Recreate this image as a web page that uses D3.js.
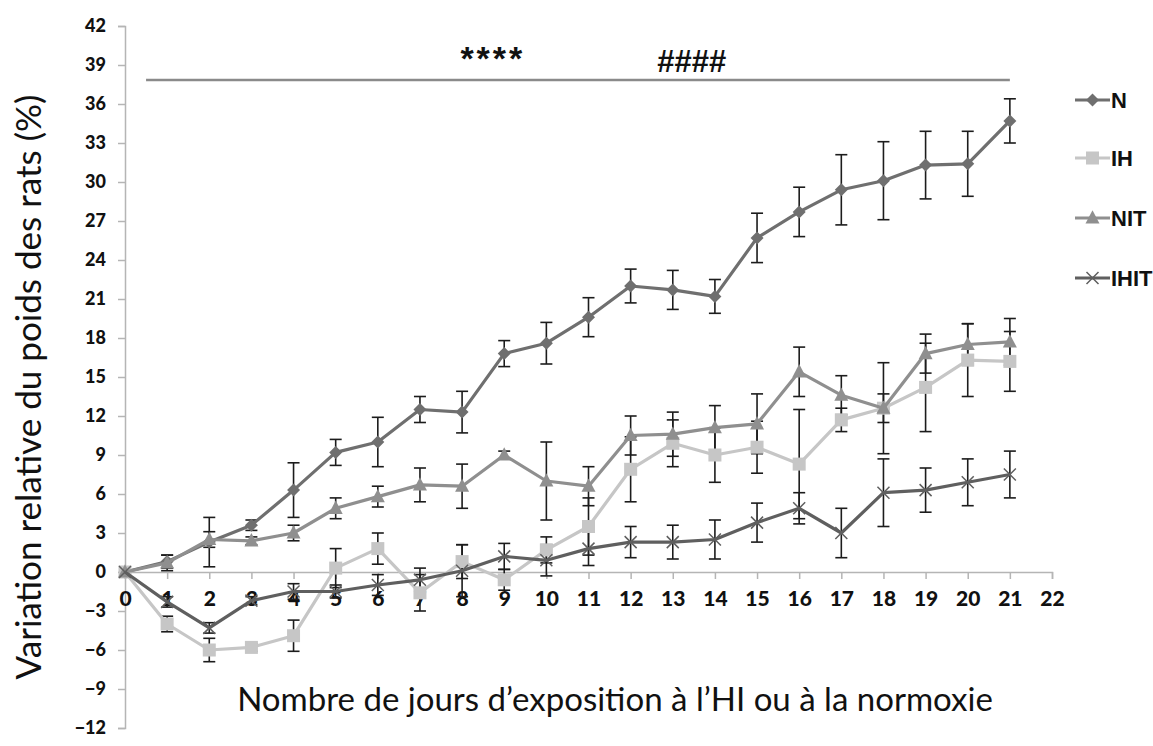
<!DOCTYPE html>
<html>
<head>
<meta charset="utf-8">
<script src="https://cdn.jsdelivr.net/npm/d3@7"></script>
<style>
  html, body { margin: 0; padding: 0; background: #fff; }
  svg { display: block; }
</style>
</head>
<body>
<svg id="chart" width="1153" height="746"></svg>
<script>
// Days of exposure
const days = d3.range(0, 22);

// Mean relative weight change (%) per group
const seriesN    = [0, 0.8, 2.3, 3.6, 6.3, 9.2, 10.0, 12.5, 12.3, 16.8, 17.6, 19.6, 22.0, 21.7, 21.2, 25.7, 27.7, 29.4, 30.1, 31.3, 31.4, 34.7];
const seriesIH   = [0, -4.0, -6.0, -5.8, -4.9, 0.3, 1.8, -1.6, 0.8, -0.6, 1.7, 3.5, 7.9, 9.9, 9.0, 9.6, 8.3, 11.7, 12.6, 14.2, 16.3, 16.2];
const seriesNIT  = [0, 0.7, 2.5, 2.4, 3.0, 4.9, 5.8, 6.7, 6.6, 9.0, 7.0, 6.6, 10.5, 10.6, 11.1, 11.4, 15.4, 13.6, 12.6, 16.8, 17.5, 17.7];
const seriesIHIT = [0, -2.3, -4.3, -2.2, -1.5, -1.5, -1.0, -0.6, 0.1, 1.2, 0.9, 1.8, 2.3, 2.3, 2.5, 3.8, 4.9, 3.0, 6.1, 6.3, 6.9, 7.5];

// Standard errors
const errN    = [0, 0.5, 1.9, 0.4, 2.1, 1.0, 1.9, 1.0, 1.6, 1.0, 1.6, 1.5, 1.3, 1.5, 1.3, 1.9, 1.9, 2.7, 3.0, 2.6, 2.5, 1.7];
const errIH   = [0, 0.6, 0.9, 0.3, 1.2, 1.5, 1.2, 1.4, 1.3, 0.8, 1.0, 2.2, 2.5, 1.8, 2.1, 2.0, 4.2, 0.9, 1.1, 3.4, 2.8, 2.3];
const errNIT  = [0, 0.6, 0.6, 0.3, 0.6, 0.8, 0.8, 1.3, 1.7, 0.3, 3.0, 1.5, 1.5, 1.7, 1.7, 2.3, 1.9, 1.5, 3.5, 1.5, 1.6, 1.8];
const errIHIT = [0, 0.4, 0.4, 0.3, 0.6, 0.5, 0.8, 0.9, 2.0, 1.0, 1.2, 1.3, 1.2, 1.3, 1.5, 1.5, 1.2, 1.9, 2.6, 1.7, 1.8, 1.8];

// Axis ticks
const xTicks = d3.range(0, 23);
const yTicks = d3.range(-12, 43, 3);

// Significance bracket
const bracketDays = [0.5, 21];
const bracketLevel = 37.85;
const bracketLabels = ["****", "####"];

const groups = [
  { name: "N",    values: seriesN,    err: errN,    color: "#6f6f6f", symbol: "diamond" },
  { name: "IH",   values: seriesIH,   err: errIH,   color: "#c6c6c6", symbol: "square" },
  { name: "NIT",  values: seriesNIT,  err: errNIT,  color: "#8f8f8f", symbol: "triangle" },
  { name: "IHIT", values: seriesIHIT, err: errIHIT, color: "#5f5f5f", symbol: "cross" }
];

const svg = d3.select("#chart");

const x = d3.scaleLinear().domain([0, 22]).range([125, 1052]);
const y = d3.scaleLinear().domain([-12, 42]).range([728, 26]);

const tickFont = "Lato, 'Open Sans', sans-serif";

// Y axis along the left edge
const yAxis = svg.append("g")
  .attr("transform", `translate(${x(0)},0)`)
  .call(d3.axisLeft(y).tickValues(yTicks).tickSize(7).tickPadding(12).tickFormat(d3.format("d")));
yAxis.select(".domain").attr("stroke", "#b5b5b5").attr("stroke-width", 1.5);
yAxis.selectAll(".tick line").attr("stroke", "#b5b5b5").attr("stroke-width", 1.5);
yAxis.selectAll(".tick text")
  .attr("fill", "#111")
  .style("font-family", tickFont)
  .style("font-weight", 900)
  .style("font-size", "18px");

// X axis on the zero line
const xAxis = svg.append("g")
  .attr("transform", `translate(0,${y(0)})`)
  .call(d3.axisBottom(x).tickValues(xTicks).tickSize(7).tickPadding(12).tickFormat(d3.format("d")));
xAxis.select(".domain").attr("stroke", "#b5b5b5").attr("stroke-width", 1.5);
xAxis.selectAll(".tick line").attr("stroke", "#b5b5b5").attr("stroke-width", 1.5);
xAxis.selectAll(".tick text")
  .attr("fill", "#111")
  .style("font-family", tickFont)
  .style("font-weight", 900)
  .style("font-size", "21px");

// Significance bracket and markers
svg.append("line")
  .attr("x1", x(bracketDays[0])).attr("x2", x(bracketDays[1]))
  .attr("y1", y(bracketLevel)).attr("y2", y(bracketLevel))
  .attr("stroke", "#8a8a8a").attr("stroke-width", 2.5);

svg.append("text")
  .attr("x", x(8.73)).attr("y", y(bracketLevel) - 10)
  .attr("text-anchor", "middle")
  .style("font-family", "'Liberation Sans', Arial, sans-serif")
  .style("font-weight", 700).style("font-size", "34px")
  .style("letter-spacing", "3px")
  .attr("fill", "#111")
  .text(bracketLabels[0]);

svg.append("text")
  .attr("x", x(13.45)).attr("y", y(bracketLevel) - 8)
  .attr("text-anchor", "middle")
  .style("font-family", "'Liberation Sans', Arial, sans-serif")
  .style("font-weight", 700).style("font-size", "31px")
  .attr("fill", "#111")
  .text(bracketLabels[1]);

// Error bars
const capHalf = 6;
groups.forEach(g => {
  const eb = svg.append("g").attr("class", "err");
  days.forEach((d, i) => {
    if (!g.err[i]) return;
    const hi = y(g.values[i] + g.err[i]);
    const lo = y(g.values[i] - g.err[i]);
    eb.append("line").attr("x1", x(d)).attr("x2", x(d)).attr("y1", hi).attr("y2", lo);
    eb.append("line").attr("x1", x(d) - capHalf).attr("x2", x(d) + capHalf).attr("y1", hi).attr("y2", hi);
    eb.append("line").attr("x1", x(d) - capHalf).attr("x2", x(d) + capHalf).attr("y1", lo).attr("y2", lo);
  });
  eb.selectAll("line").attr("stroke", "#1c1c1c").attr("stroke-width", 1.6);
});

// Marker drawing
function drawMarker(sel, symbol, color, cx, cy, s) {
  if (symbol === "diamond") {
    sel.append("path")
      .attr("d", `M${cx},${cy - s}L${cx + s},${cy}L${cx},${cy + s}L${cx - s},${cy}Z`)
      .attr("fill", color);
  } else if (symbol === "square") {
    sel.append("rect")
      .attr("x", cx - s).attr("y", cy - s).attr("width", 2 * s).attr("height", 2 * s)
      .attr("fill", color);
  } else if (symbol === "triangle") {
    sel.append("path")
      .attr("d", `M${cx},${cy - s * 1.1}L${cx + s},${cy + s * 0.8}L${cx - s},${cy + s * 0.8}Z`)
      .attr("fill", color);
  } else if (symbol === "cross") {
    sel.append("path")
      .attr("d", `M${cx - s},${cy - s}L${cx + s},${cy + s}M${cx - s},${cy + s}L${cx + s},${cy - s}`)
      .attr("stroke", color).attr("stroke-width", 1.5).attr("fill", "none");
  }
}

const sizes = { diamond: 6.5, square: 6.5, triangle: 7, cross: 6 };

// Lines and markers
const line = d3.line().x((d, i) => x(days[i])).y(d => y(d));
groups.forEach(g => {
  svg.append("path")
    .datum(g.values)
    .attr("d", line)
    .attr("fill", "none")
    .attr("stroke", g.color)
    .attr("stroke-width", 3.2)
    .attr("stroke-linejoin", "round");
  const mk = svg.append("g");
  g.values.forEach((v, i) => drawMarker(mk, g.symbol, g.color, x(days[i]), y(v), sizes[g.symbol]));
});

// Legend
const legendY = [100, 158, 218, 278];
const legend = svg.append("g");
groups.forEach((g, i) => {
  const ly = legendY[i];
  legend.append("line")
    .attr("x1", 1075).attr("x2", 1110).attr("y1", ly).attr("y2", ly)
    .attr("stroke", g.color).attr("stroke-width", 3.2);
  drawMarker(legend, g.symbol, g.color, 1092.5, ly, sizes[g.symbol]);
  legend.append("text")
    .attr("x", 1111).attr("y", ly).attr("dy", "0.36em")
    .style("font-family", "'Liberation Sans', Arial, sans-serif")
    .style("font-weight", 700).style("font-size", "22px")
    .attr("fill", "#111")
    .text(g.name);
});

// Axis titles, sized to their span
function fitText(sel, width) {
  const len = sel.node().getComputedTextLength();
  const fs = parseFloat(sel.style("font-size"));
  sel.style("font-size", (fs * width / len) + "px");
}

const xTitle = svg.append("text")
  .attr("x", 615).attr("y", 711)
  .attr("text-anchor", "middle")
  .style("font-family", "Lato, 'Open Sans', sans-serif")
  .style("font-size", "30px")
  .attr("fill", "#111")
  .text("Nombre de jours d\u2019exposition à l\u2019HI ou à la normoxie");
fitText(xTitle, 756);

const yTitle = svg.append("text")
  .attr("transform", "translate(41,387) rotate(-90)")
  .attr("text-anchor", "middle")
  .style("font-family", "Lato, 'Open Sans', sans-serif")
  .style("font-size", "28px")
  .attr("fill", "#111")
  .text("Variation relative du poids des rats (%)");
fitText(yTitle, 585);
</script>
</body>
</html>
